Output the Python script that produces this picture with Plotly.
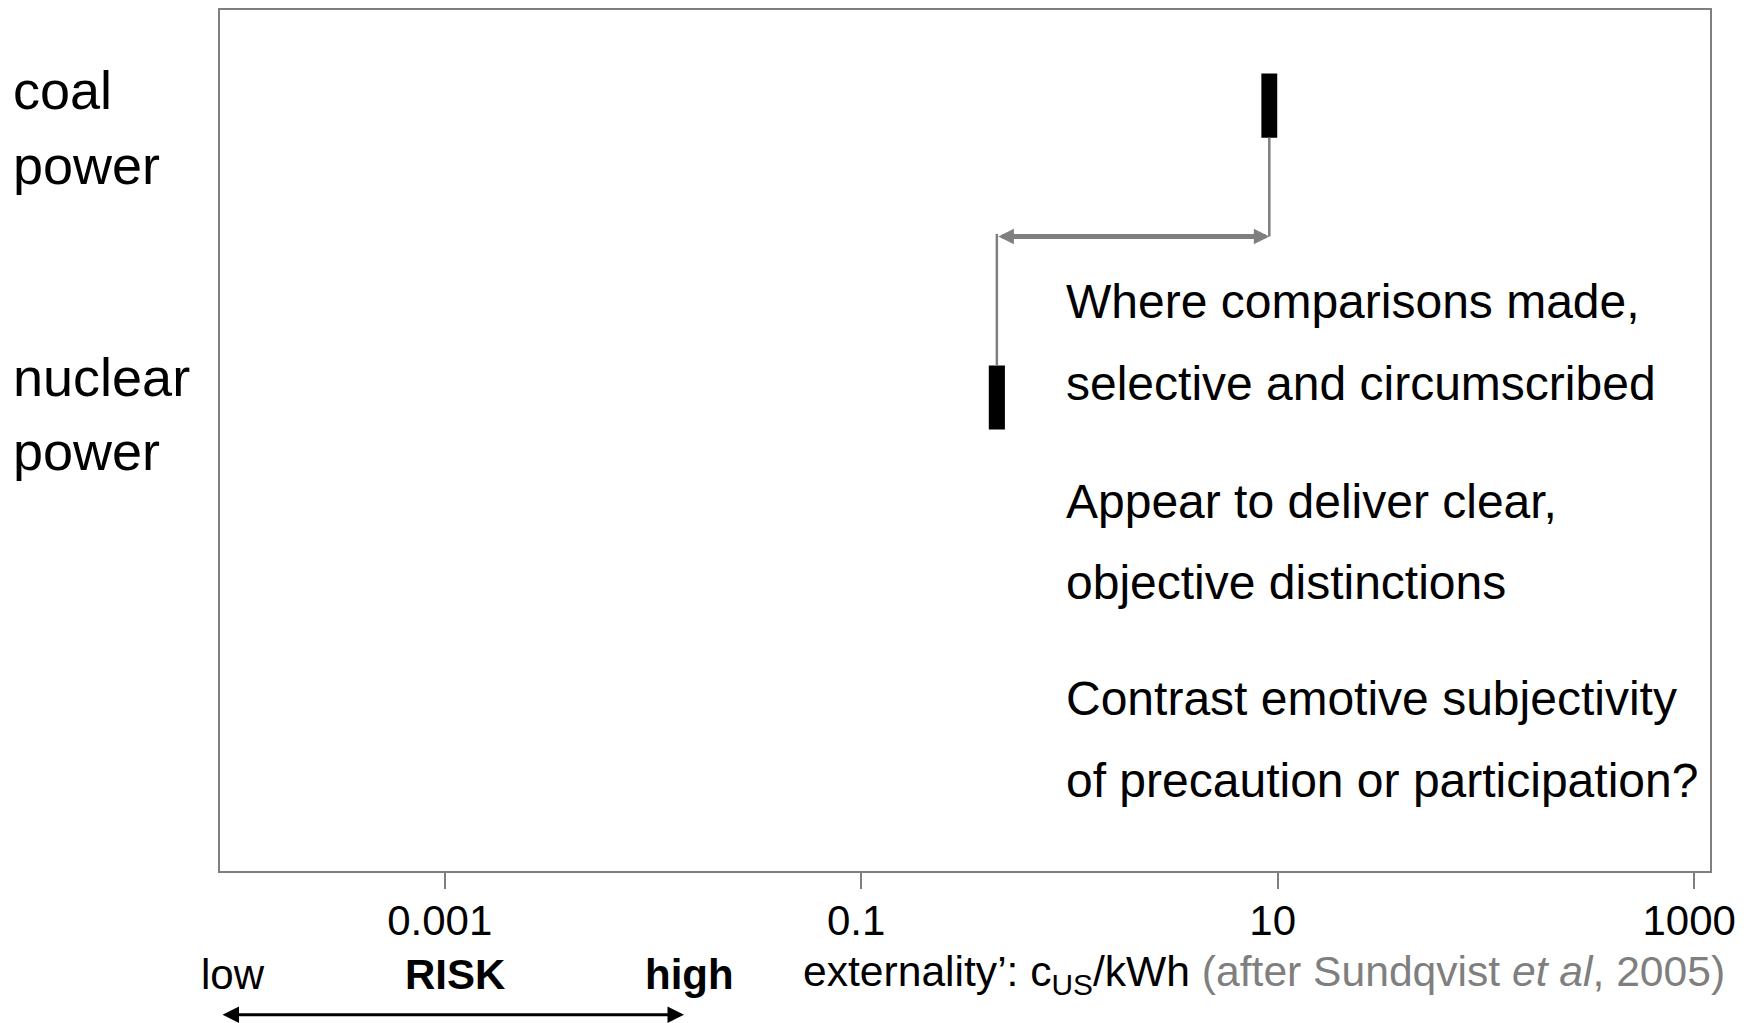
import plotly.graph_objects as go
import math

# ---------------- data ----------------
sources = ["coal power", "nuclear power"]
source_lines = [["coal", "power"], ["nuclear", "power"]]
source_y = [88.9, 55.0]                 # vertical position of each band (0-100 scale)
range_low = [8.35, 0.41]                # c_US/kWh, lower end of externality band
range_high = [9.95, 0.49]               # c_US/kWh, upper end of externality band
band_height = 7.45
comparison_level = 73.7                 # y of the comparison arrow

tick_vals = [0.001, 0.1, 10, 1000]
tick_text = ["0.001", "0.1", "10", "1000"]

notes = [
    "Where comparisons made,",
    "selective and circumscribed",
    "Appear to deliver clear,",
    "objective distinctions",
    "Contrast emotive subjectivity",
    "of precaution or participation?",
]
note_baselines_px = [317, 399, 517, 598, 715, 797]

FONT = "Liberation Sans, Arial, Helvetica, sans-serif"
GREY = "#7f7f7f"

OFF = 8  # page body margin
W, H = 1751, 1015
L, R, T, B = 212, 49, 0, 152
PW, PH = W - L - R, H - T - B


def px_x(px):
    return (px - OFF - L) / PW


def px_y(py):
    return (H - B - (py - OFF)) / PH


fig = go.Figure()

# bands
fig.add_trace(go.Bar(
    y=source_y, base=range_low,
    x=[h - l for h, l in zip(range_high, range_low)],
    orientation="h", width=band_height,
    marker=dict(color="black", line=dict(width=0)),
    hoverinfo="skip", showlegend=False,
))

# connectors from each band to the comparison arrow
centers = [math.sqrt(l * h) for l, h in zip(range_low, range_high)]
fig.add_trace(go.Scatter(
    x=[centers[0], centers[0]],
    y=[source_y[0] - band_height / 2, comparison_level],
    mode="lines", line=dict(color=GREY, width=2.5),
    hoverinfo="skip", showlegend=False,
))
fig.add_trace(go.Scatter(
    x=[centers[1], centers[1]],
    y=[comparison_level + 0.3, source_y[1] + band_height / 2],
    mode="lines", line=dict(color=GREY, width=2.5),
    hoverinfo="skip", showlegend=False,
))

annotations = []
# double-headed comparison arrow
annotations.append(dict(
    x=math.log10(centers[0]), y=comparison_level, xref="x", yref="y",
    ax=math.log10(centers[1]), ay=comparison_level, axref="x", ayref="y",
    text="", showarrow=True, arrowside="end+start",
    arrowhead=2, arrowsize=0.62, startarrowhead=2, startarrowsize=0.62,
    arrowwidth=5, arrowcolor=GREY, standoff=0, startstandoff=0,
))

# left labels
left_baselines = [[107, 182], [395, 469]]
for lines, bls in zip(source_lines, left_baselines):
    for txt, bl in zip(lines, bls):
        fs = 54
        annotations.append(dict(
            x=px_x(11), y=px_y(bl - 0.3465 * fs), xref="paper", yref="paper",
            xanchor="left", yanchor="middle", text=txt, showarrow=False,
            font=dict(family=FONT, size=fs, color="black"),
        ))

# right-hand notes
for txt, bl in zip(notes, note_baselines_px):
    fs = 48
    annotations.append(dict(
        x=px_x(1064), y=px_y(bl - 0.3465 * fs), xref="paper", yref="paper",
        xanchor="left", yanchor="middle", text=txt, showarrow=False,
        font=dict(family=FONT, size=fs, color="black"),
    ))

# bottom RISK labels
bottom_bl = 989
fs = 42
for txt, xl in [("low", 199), ("<b>RISK</b>", 403), ("<b>high</b>", 643)]:
    annotations.append(dict(
        x=px_x(xl), y=px_y(bottom_bl - 0.3465 * fs), xref="paper", yref="paper",
        xanchor="left", yanchor="middle", text=txt, showarrow=False,
        font=dict(family=FONT, size=fs, color="black"),
    ))
fs_ext = 42.6
annotations.append(dict(
    x=px_x(801), y=px_y(bottom_bl - 0.3465 * fs_ext), xref="paper", yref="paper",
    xanchor="left", yanchor="middle",
    text="externality’: c<sub>US</sub>/kWh <span style='color:#7f7f7f'>(after Sundqvist <i>et al</i>, 2005)</span>",
    showarrow=False, font=dict(family=FONT, size=fs_ext, color="black"),
))
# RISK arrow
annotations.append(dict(
    x=px_x(684), y=px_y(1015), xref="paper", yref="paper",
    ax=-(684 - 221), ay=0, axref="pixel", ayref="pixel",
    text="", showarrow=True, arrowside="end+start",
    arrowhead=2, arrowsize=1.1, startarrowhead=2, startarrowsize=1.1,
    arrowwidth=3, arrowcolor="black", standoff=0, startstandoff=0,
))

fig.update_layout(
    width=W, height=H, autosize=False,
    margin=dict(l=L, r=R, t=T, b=B, pad=0),
    paper_bgcolor="white", plot_bgcolor="white",
    showlegend=False, annotations=annotations,
    xaxis=dict(
        type="log", range=[-4.079, 3.076],
        tickvals=tick_vals, ticktext=tick_text,
        ticks="outside", ticklen=16, tickwidth=2, tickcolor=GREY,
        showline=True, mirror=True, linecolor=GREY, linewidth=2,
        showgrid=False, zeroline=False,
        tickfont=dict(family=FONT, size=42, color="black"),
        ticklabelshift=-5, ticklabelstandoff=-4,
    ),
    yaxis=dict(
        range=[0, 100], showticklabels=False, ticks="",
        showline=True, mirror=True, linecolor=GREY, linewidth=2,
        showgrid=False, zeroline=False, fixedrange=True,
    ),
    font=dict(family=FONT),
)

fig.write_html("out.html")
